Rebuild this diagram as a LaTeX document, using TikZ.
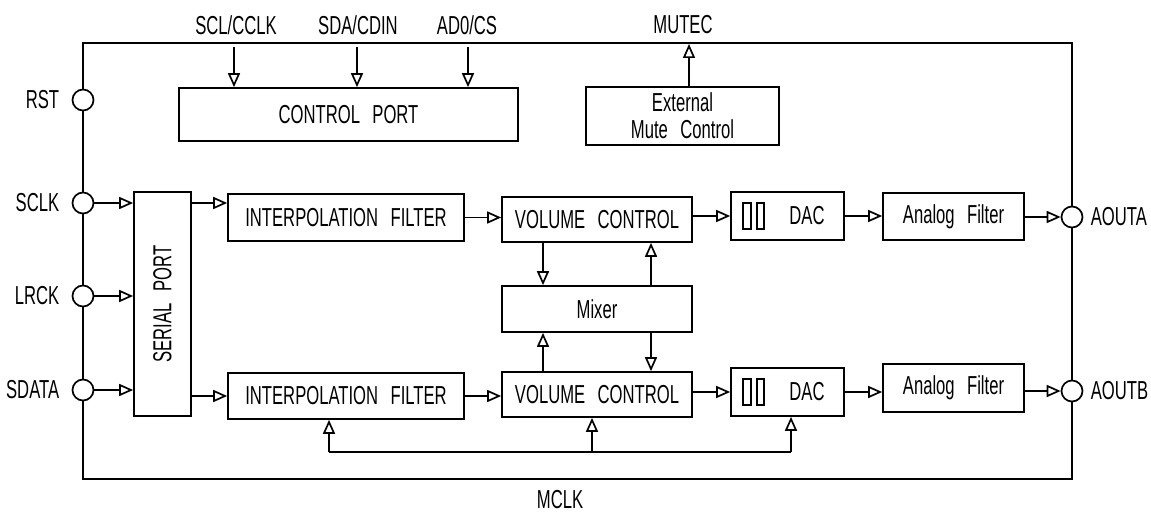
\documentclass[tikz,border=0pt]{standalone}
\usepackage{fontspec}
\setmainfont{Liberation Sans}[FakeStretch=0.64]
\usetikzlibrary{arrows.meta}
\newcommand\dfont{\fontsize{26}{27}\selectfont}
\newcommand\wsp{\hspace{0.3em}}
\begin{document}
\begin{tikzpicture}[x=1pt,y=-1pt,line width=1.7pt,
  box/.style={draw,rectangle,inner sep=0pt,font=\dfont,align=center},
  pin/.style={draw,circle,fill=white,minimum size=21pt,inner sep=0pt},
  lbl/.style={font=\dfont,inner sep=0pt},
  arr/.style={-{Triangle[open,length=14pt,width=12pt]}}]
\useasboundingbox (0,0) rectangle (1151,513);
% frame
\draw (83,43) rectangle (1072,479);
% pins
\node[pin] (rst) at (83,100) {};
\node[pin] (sclk) at (83,203) {};
\node[pin] (lrck) at (83,296) {};
\node[pin] (sdata) at (83,390) {};
\node[pin] (aouta) at (1072,217) {};
\node[pin] (aoutb) at (1072,391) {};
\node[lbl,anchor=east] (rstl) at (60,100) {RST};
\node[lbl,anchor=east] (sclkl) at (60,203) {SCLK};
\node[lbl,anchor=east] (lrckl) at (60,296) {LRCK};
\node[lbl,anchor=east] (sdatal) at (60,390) {SDATA};
\node[lbl,anchor=west] (aoutal) at (1090,217) {AOUTA};
\node[lbl,anchor=west] (aoutbl) at (1090,391) {AOUTB};
\node[lbl] (mclkl) at (560,500) {MCLK};
\node[lbl] (scll) at (236,25) {SCL/CCLK};
\node[lbl] (sdal) at (358,25) {SDA/CDIN};
\node[lbl] (adl) at (467,25) {AD0/CS};
\node[lbl] (mutl) at (683,25) {MUTEC};
% boxes
\node[box,minimum width=339pt,minimum height=53pt] (cp) at (348.5,114.5) {CONTROL \wsp PORT};
\node[box,minimum width=193pt,minimum height=58pt] (emc) at (682.5,116) {External\\Mute \wsp Control};
\node[box,minimum width=57pt,minimum height=224pt] (sp) at (162.5,304) {};
\node[lbl,rotate=90] (spt) at (162.5,304) {SERIAL \wsp PORT};
\node[box,minimum width=236pt,minimum height=47pt] (if1) at (346,217.5) {INTERPOLATION \wsp FILTER};
\node[box,minimum width=236pt,minimum height=46pt] (if2) at (346,396) {INTERPOLATION \wsp FILTER};
\node[box,minimum width=190pt,minimum height=45pt] (vc1) at (597,219.5) {VOLUME \wsp CONTROL};
\node[box,minimum width=190pt,minimum height=45pt] (vc2) at (597,394.5) {VOLUME \wsp CONTROL};
\node[box,minimum width=190pt,minimum height=46pt] (mx) at (597,309) {Mixer};
\node[box,minimum width=113pt,minimum height=48pt] (dac1) at (787.5,216) {};
\node[box,minimum width=113pt,minimum height=48pt] (dac2) at (787.5,392) {};
\node[lbl] (dac1t) at (807,216) {DAC};
\node[lbl] (dac2t) at (807,392) {DAC};
\draw[line width=1.4pt] (743,203) rectangle (751,229) (757,203) rectangle (764,229);
\draw[line width=1.4pt] (743,379) rectangle (751,405) (757,379) rectangle (764,405);
\node[box,minimum width=141pt,minimum height=47pt] (af1) at (953.5,216.5) {Analog \wsp Filter};
\node[box,minimum width=141pt,minimum height=48pt] (af2) at (953.5,388) {Analog \wsp Filter};
% control port inputs
\coordinate (c1) at (234,47);
\coordinate (c2) at (357,47);
\coordinate (c3) at (468,47);
\draw[arr] (c1) -- (c1 |- cp.north);
\draw[arr] (c2) -- (c2 |- cp.north);
\draw[arr] (c3) -- (c3 |- cp.north);
\coordinate (mt) at (689,44);
\draw[arr] (emc.north -| mt) -- (mt);
% pins to serial port
\draw[arr] (sclk) -- (sclk -| sp.west);
\draw[arr] (lrck) -- (lrck -| sp.west);
\draw[arr] (sdata) -- (sdata -| sp.west);
% channel A
\draw[arr] (sp.east |- sclk) -- (if1.west |- sclk);
\draw[arr] (if1.east) -- (if1.east -| vc1.west);
\draw[arr] (dac1.west -| vc1.east) -- (dac1.west);
\draw[arr] (dac1.east) -- (dac1.east -| af1.west);
\draw[arr] (af1.east |- aouta) -- (aouta);
% channel B
\draw[arr] (sp.east |- if2.west) -- (if2.west);
\draw[arr] (if2.east) -- (if2.east -| vc2.west);
\draw[arr] (dac2.west -| vc2.east) -- (dac2.west);
\draw[arr] (dac2.east) -- (dac2.east -| af2.west);
\draw[arr] (af2.east |- aoutb) -- (aoutb);
% mixer
\coordinate (xa) at (543,0);
\coordinate (xb) at (651,0);
\draw[arr] (vc1.south -| xa) -- (mx.north -| xa);
\draw[arr] (mx.north -| xb) -- (vc1.south -| xb);
\draw[arr] (vc2.north -| xa) -- (mx.south -| xa);
\draw[arr] (mx.south -| xb) -- (vc2.north -| xb);
% clock bus
\coordinate (b1) at (329,452);
\coordinate (b2) at (592,452);
\coordinate (b3) at (791,452);
\draw (b1) -- (b3);
\draw[arr] (b1) -- (b1 |- if2.south);
\draw[arr] (b2) -- (b2 |- vc2.south);
\draw[arr] (b3) -- (b3 |- dac2.south);
\end{tikzpicture}
\end{document}
